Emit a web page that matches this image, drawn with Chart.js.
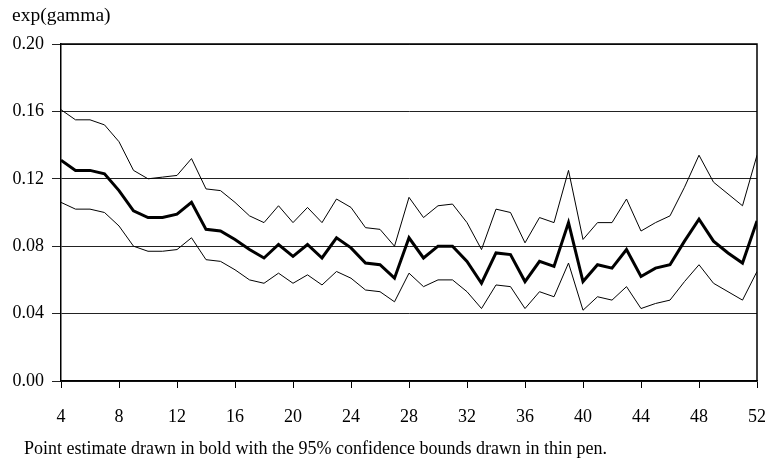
<!DOCTYPE html>
<html>
<head>
<meta charset="utf-8">
<script src="https://cdn.jsdelivr.net/npm/chart.js@4"></script>
<style>
  html, body { margin: 0; padding: 0; background: #fff; }
  #wrap { position: relative; width: 770px; height: 462px; }
  #c { position: absolute; left: 0; top: 0; }
  .txt { position: absolute; font-family: 'Liberation Serif', 'Times New Roman', serif; font-size: 18px; line-height: 18px; color: #000; white-space: nowrap; }
  #ttl { left: 12px; top: 6px; font-size: 19.5px; }
  #foot { left: 24px; top: 439px; }
</style>
</head>
<body>
<div id="wrap">
  <canvas id="c" width="770" height="462"></canvas>
  <div id="ttl" class="txt">exp(gamma)</div>
  <div id="foot" class="txt">Point estimate drawn in bold with the 95% confidence bounds drawn in thin pen.</div>
</div>
<script>
const periods = [4,5,6,7,8,9,10,11,12,13,14,15,16,17,18,19,20,21,22,23,24,25,26,27,28,29,30,31,32,33,34,35,36,37,38,39,40,41,42,43,44,45,46,47,48,49,50,51,52];
const upperBound = [0.161,0.155,0.155,0.152,0.142,0.125,0.120,0.121,0.122,0.132,0.114,0.113,0.106,0.098,0.094,0.104,0.094,
  0.103,0.094,0.108,0.103,0.091,0.090,0.080,0.109,0.097,0.104,0.105,0.094,0.078,0.102,0.100,
  0.082,0.097,0.094,0.125,0.084,0.094,0.094,0.108,0.089,0.094,0.098,0.115,0.134,0.118,0.111,0.104,0.134];
const pointEstimate = [0.131,0.125,0.125,0.123,0.113,0.101,0.097,0.097,0.099,0.106,0.090,0.089,0.084,0.078,0.073,0.081,0.074,
  0.081,0.073,0.085,0.079,0.070,0.069,0.061,0.085,0.073,0.080,0.080,0.071,0.058,0.076,0.075,
  0.059,0.071,0.068,0.094,0.059,0.069,0.067,0.078,0.062,0.067,0.069,0.083,0.096,0.083,0.076,0.070,0.095];
const lowerBound = [0.106,0.102,0.102,0.100,0.092,0.080,0.077,0.077,0.078,0.085,0.072,0.071,0.066,0.060,0.058,0.064,0.058,
  0.063,0.057,0.065,0.061,0.054,0.053,0.047,0.064,0.056,0.060,0.060,0.053,0.043,0.057,0.056,
  0.043,0.053,0.050,0.070,0.042,0.050,0.048,0.056,0.043,0.046,0.048,0.059,0.069,0.058,0.053,0.048,0.065];
const xTickStep = 4;
const yTickStep = 0.04;
const yMax = 0.20;

const toXY = arr => periods.map((p, i) => ({x: p, y: arr[i]}));
const serif = "'Liberation Serif', 'Times New Roman', serif";

const frame = {
  id: 'frame',
  afterDatasetsDraw(chart) {
    const a = chart.chartArea, ctx = chart.ctx;
    ctx.save();
    ctx.strokeStyle = '#000';
    ctx.lineWidth = 1.5;
    ctx.beginPath();
    ctx.moveTo(a.left, a.top);
    ctx.lineTo(a.right, a.top);
    ctx.lineTo(a.right, a.bottom);
    ctx.stroke();
    ctx.restore();
  }
};

new Chart(document.getElementById('c'), {
  type: 'line',
  data: {
    datasets: [
      { label: 'Upper bound', data: toXY(upperBound), borderColor: '#000', borderWidth: 1, pointRadius: 0, tension: 0, fill: false },
      { label: 'Lower bound', data: toXY(lowerBound), borderColor: '#000', borderWidth: 1, pointRadius: 0, tension: 0, fill: false },
      { label: 'Point estimate', data: toXY(pointEstimate), borderColor: '#000', borderWidth: 3, pointRadius: 0, tension: 0, fill: false }
    ]
  },
  options: {
    responsive: false,
    animation: false,
    layout: { padding: { left: 0, right: 13, top: 44, bottom: 40 } },
    plugins: { legend: { display: false }, tooltip: { enabled: false }, title: { display: false } },
    scales: {
      x: {
        type: 'linear', min: 4, max: 52,
        afterFit(s) { s.height = 41; s.paddingLeft = 0; s.paddingRight = 0; },
        border: { display: true, color: '#000', width: 1.5 },
        grid: { drawOnChartArea: false, drawTicks: true, tickLength: 7, color: '#000', lineWidth: 1 },
        ticks: { stepSize: xTickStep, color: '#000', padding: 18, maxRotation: 0, autoSkip: false, font: { family: serif, size: 18 } }
      },
      y: {
        min: 0, max: yMax,
        afterFit(s) { s.width = 61; s.paddingTop = 0; s.paddingBottom = 0; },
        border: { display: true, color: '#000', width: 1.5 },
        grid: { drawOnChartArea: true, drawTicks: true, tickLength: 9, color: '#222', lineWidth: 1 },
        ticks: { stepSize: yTickStep, color: '#000', padding: 8, font: { family: serif, size: 18 },
                 callback: v => Number(v).toFixed(2) }
      }
    }
  },
  plugins: [frame]
});
</script>
</body>
</html>
